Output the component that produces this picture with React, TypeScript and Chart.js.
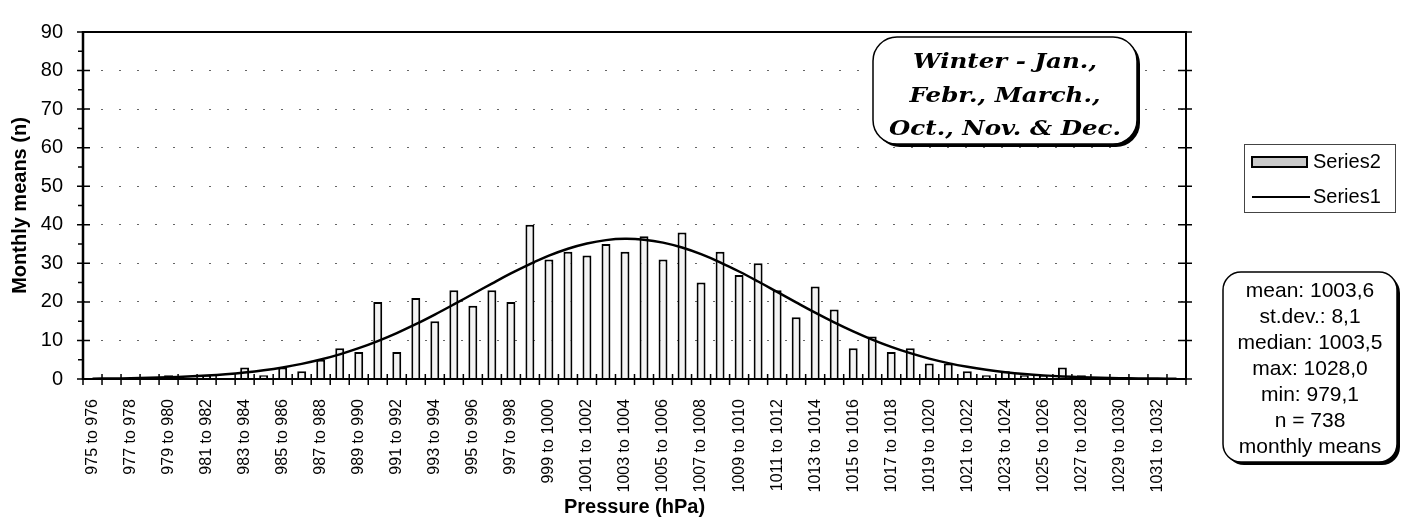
import React, { useEffect, useRef } from 'react';
import { Chart, registerables } from 'chart.js';

Chart.register(...registerables);

// ---------- data ----------
const categories = [
  '975 to 976', '976 to 977', '977 to 978', '978 to 979', '979 to 980', '980 to 981',
  '981 to 982', '982 to 983', '983 to 984', '984 to 985', '985 to 986', '986 to 987',
  '987 to 988', '988 to 989', '989 to 990', '990 to 991', '991 to 992', '992 to 993',
  '993 to 994', '994 to 995', '995 to 996', '996 to 997', '997 to 998', '998 to 999',
  '999 to 1000', '1000 to 1001', '1001 to 1002', '1002 to 1003', '1003 to 1004', '1004 to 1005',
  '1005 to 1006', '1006 to 1007', '1007 to 1008', '1008 to 1009', '1009 to 1010', '1010 to 1011',
  '1011 to 1012', '1012 to 1013', '1013 to 1014', '1014 to 1015', '1015 to 1016', '1016 to 1017',
  '1017 to 1018', '1018 to 1019', '1019 to 1020', '1020 to 1021', '1021 to 1022', '1022 to 1023',
  '1023 to 1024', '1024 to 1025', '1025 to 1026', '1026 to 1027', '1027 to 1028', '1028 to 1029',
  '1029 to 1030', '1030 to 1031', '1031 to 1032', '1032 to 1033',
];

// Series2: histogram counts (bars)
const series2 = [
  0, 0, 0, 0, 1, 0, 1, 0, 3, 1, 3, 2, 5, 8, 7, 20, 7, 21, 15, 23,
  19, 23, 20, 40, 31, 33, 32, 35, 33, 37, 31, 38, 25, 33, 27, 30, 23, 16, 24, 18,
  8, 11, 7, 8, 4, 4, 2, 1, 2, 1, 1, 3, 1, 0, 0, 0, 0, 0,
];

// Series1: fitted curve (line)
const series1 = [
  0.09, 0.13, 0.2, 0.3, 0.43, 0.62, 0.88, 1.22, 1.67, 2.25, 2.99, 3.92, 5.05, 6.39, 7.99,
  9.83, 11.91, 14.21, 16.71, 19.34, 22.05, 24.75, 27.38, 29.81, 31.98, 33.78, 35.15, 36.02,
  36.35, 36.12, 35.37, 34.09, 32.37, 30.27, 27.88, 25.29, 22.59, 19.88, 17.22, 14.7, 12.36,
  10.23, 8.34, 6.7, 5.29, 4.12, 3.16, 2.39, 1.78, 1.3, 0.94, 0.67, 0.47, 0.32, 0.22, 0.15,
  0.1, 0.06,
];

const yMin = 0;
const yMax = 90;
const yStep = 10;

const seriesNames = ['Series2', 'Series1'];
const xTitle = 'Pressure (hPa)';
const yTitle = 'Monthly means (n)';
const titleLines = ['Winter - Jan.,', 'Febr., March.,', 'Oct., Nov. & Dec.'];
const statsLines = [
  'mean: 1003,6',
  'st.dev.: 8,1',
  'median: 1003,5',
  'max: 1028,0',
  'min: 979,1',
  'n = 738',
  'monthly means',
];

const SANS = '"Liberation Sans", Arial, Helvetica, sans-serif';
const SERIF = '"DejaVu Serif", "Liberation Serif", serif';

function shadowBox(ctx: CanvasRenderingContext2D, x: number, y: number, w: number, h: number, r: number) {
  ctx.fillStyle = '#000';
  ctx.beginPath();
  (ctx as any).roundRect(x + 3, y + 3, w, h, r);
  ctx.fill();
  ctx.fillStyle = '#fff';
  ctx.beginPath();
  (ctx as any).roundRect(x, y, w, h, r);
  ctx.fill();
  ctx.lineWidth = 1.5;
  ctx.strokeStyle = '#000';
  ctx.stroke();
}

const framePlugin = {
  id: 'framePlugin',
  afterDatasetsDraw(chart: any) {
    const { ctx, chartArea: a, scales } = chart;
    const xs = scales.x;
    const ys = scales.y;
    ctx.save();
    ctx.strokeStyle = '#000';
    ctx.lineWidth = 2;
    ctx.beginPath();
    ctx.moveTo(a.left, a.top);
    ctx.lineTo(a.right + 1, a.top);
    ctx.moveTo(a.right, a.top);
    ctx.lineTo(a.right, a.bottom);
    ctx.moveTo(a.left, a.bottom);
    ctx.lineTo(a.right + 1, a.bottom);
    ctx.stroke();
    ctx.lineWidth = 2.5;
    ctx.beginPath();
    ctx.moveTo(a.left, a.top - 1);
    ctx.lineTo(a.left, a.bottom + 1);
    ctx.stroke();

    ctx.lineWidth = 1.5;
    ctx.beginPath();
    const vals = ys.ticks.map((t: any) => t.value);
    vals.forEach((v: number, i: number) => {
      const py = ys.getPixelForValue(v);
      ctx.moveTo(a.left - 6, py);
      ctx.lineTo(a.left + 7, py);
      ctx.moveTo(a.right - 8, py);
      ctx.lineTo(a.right + 6, py);
      if (i > 0) {
        const pm = ys.getPixelForValue((v + vals[i - 1]) / 2);
        ctx.moveTo(a.left - 5, pm);
        ctx.lineTo(a.left, pm);
      }
    });
    const n = categories.length;
    for (let i = 0; i <= n; i++) {
      let px: number;
      if (i === 0) px = a.left;
      else if (i === n) px = a.right;
      else px = (xs.getPixelForValue(i - 1) + xs.getPixelForValue(i)) / 2;
      ctx.moveTo(px, a.bottom - 5);
      ctx.lineTo(px, a.bottom + 6);
    }
    ctx.stroke();
    ctx.restore();
  },
};

const boxesPlugin = {
  id: 'boxesPlugin',
  afterDraw(chart: any) {
    const { ctx } = chart;
    ctx.save();

    // Title box
    const tb = { x: 873, y: 37, w: 264, h: 107, r: 24 };
    shadowBox(ctx, tb.x, tb.y, tb.w, tb.h, tb.r);
    ctx.fillStyle = '#000';
    ctx.font = `italic bold 21px ${SERIF}`;
    ctx.textAlign = 'center';
    ctx.textBaseline = 'alphabetic';
    const widest = ctx.measureText(titleLines[2]).width;
    const sx = 232 / widest;
    const cx = tb.x + tb.w / 2;
    titleLines.forEach((line, i) => {
      ctx.save();
      ctx.translate(cx, 68 + i * 33.5);
      ctx.scale(sx, 1);
      ctx.fillText(line, 0, 0);
      ctx.restore();
    });

    // Legend
    const lg = { x: 1244, y: 144, w: 151, h: 68 };
    ctx.lineWidth = 1;
    ctx.strokeStyle = '#444';
    ctx.strokeRect(lg.x + 0.5, lg.y + 0.5, lg.w, lg.h);
    ctx.fillStyle = '#c9c9c9';
    ctx.fillRect(1252, 157, 55, 10);
    ctx.lineWidth = 2;
    ctx.strokeStyle = '#000';
    ctx.strokeRect(1252, 157, 55, 10);
    ctx.beginPath();
    ctx.moveTo(1252, 197);
    ctx.lineTo(1310, 197);
    ctx.stroke();
    ctx.fillStyle = '#000';
    ctx.font = `20px ${SANS}`;
    ctx.textAlign = 'left';
    ctx.textBaseline = 'middle';
    ctx.fillText(chart.data.datasets[0].label, 1313, 162);
    ctx.fillText(chart.data.datasets[1].label, 1313, 197);

    // Stats box
    const sb = { x: 1223, y: 272, w: 174, h: 190, r: 18 };
    shadowBox(ctx, sb.x, sb.y, sb.w, sb.h, sb.r);
    ctx.fillStyle = '#000';
    ctx.font = `21px ${SANS}`;
    ctx.textAlign = 'center';
    ctx.textBaseline = 'middle';
    statsLines.forEach((line, i) => {
      ctx.fillText(line, sb.x + sb.w / 2, 291 + i * 26);
    });

    ctx.restore();
  },
};

export default function App() {
  const ref = useRef<HTMLCanvasElement>(null);

  useEffect(() => {
    if (!ref.current) return;
    Chart.defaults.font.family = SANS;
    Chart.defaults.color = '#000';
    const chart = new Chart(ref.current, {
      type: 'bar',
      data: {
        labels: categories,
        datasets: [
          {
            type: 'bar',
            label: seriesNames[0],
            data: series2,
            backgroundColor: '#f3f3f3',
            borderColor: '#000',
            borderWidth: 2,
            barPercentage: 0.47,
            categoryPercentage: 1,
            order: 1,
          } as any,
          {
            type: 'line',
            label: seriesNames[1],
            data: series1,
            borderColor: '#000',
            borderWidth: 2.5,
            pointRadius: 0,
            tension: 0.4,
            fill: false,
            order: 0,
          } as any,
        ],
      },
      options: {
        responsive: false,
        animation: false,
        events: [],
        layout: { padding: { left: 0, top: 16, right: 217, bottom: 0 } },
        plugins: {
          legend: { display: false },
          tooltip: { enabled: false },
        },
        scales: {
          x: {
            grid: { display: false },
            border: { display: false },
            ticks: {
              autoSkip: false,
              minRotation: 90,
              maxRotation: 90,
              padding: 12,
              font: { size: 16 },
              color: '#000',
              callback: (_v: any, i: number) => (i % 2 === 0 ? categories[i] : ''),
            },
            title: {
              display: true,
              text: xTitle,
              color: '#000',
              font: { size: 20, weight: 'bold', lineHeight: 1.1 },
              padding: { top: 0, bottom: 0 },
            },
            afterFit: (s: any) => {
              s.height = 139;
            },
          },
          y: {
            min: yMin,
            max: yMax,
            ticks: { stepSize: yStep, padding: 20, font: { size: 20 }, color: '#000' },
            grid: { color: '#666', lineWidth: 1, drawTicks: false },
            border: { display: false, dash: [2, 16] },
            title: {
              display: true,
              text: yTitle,
              color: '#000',
              font: { size: 20, weight: 'bold', lineHeight: 1.2 },
              padding: { top: 8, bottom: 0 },
            },
            afterFit: (s: any) => {
              s.width = 83;
            },
          },
        },
      } as any,
      plugins: [framePlugin, boxesPlugin],
    });
    return () => chart.destroy();
  }, []);

  return (
    <div style={{ position: 'absolute', left: 0, top: 0, width: 1403, height: 518, background: '#fff' }}>
      <canvas ref={ref} width={1403} height={518} style={{ display: 'block', width: 1403, height: 518 }} />
    </div>
  );
}
